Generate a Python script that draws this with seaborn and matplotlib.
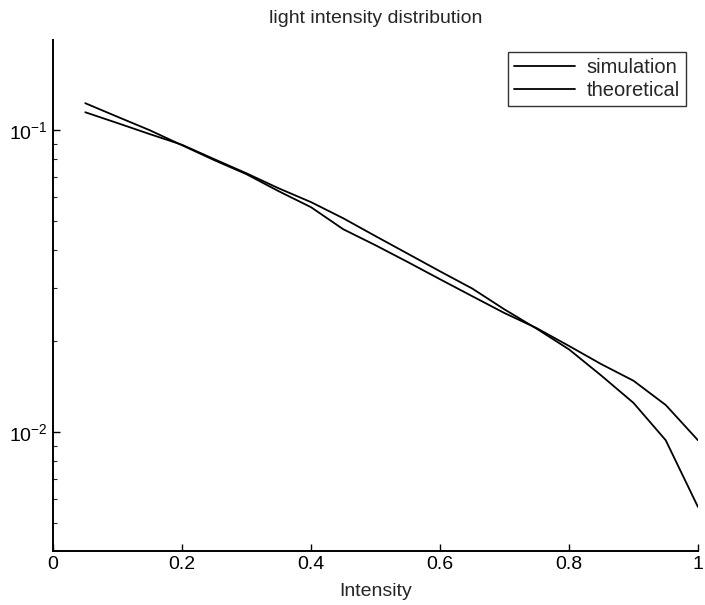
import numpy as np
import pandas as pd
import matplotlib
matplotlib.use("Agg")
import matplotlib.pyplot as plt
import seaborn as sns
from matplotlib.ticker import LogLocator, FixedLocator

intensity = [0.05, 0.10, 0.15, 0.20, 0.25, 0.30, 0.35, 0.40, 0.45, 0.50,
             0.55, 0.60, 0.65, 0.70, 0.75, 0.80, 0.85, 0.90, 0.95, 1.00]
simulation = [0.1229, 0.1108, 0.1000, 0.0892, 0.0796, 0.0715, 0.0628, 0.0556, 0.0470, 0.0416,
              0.0366, 0.0321, 0.0282, 0.0248, 0.0221, 0.0193, 0.0168, 0.0148, 0.0123, 0.0094]
theoretical = [0.1147, 0.1056, 0.0971, 0.0895, 0.0802, 0.0720, 0.0642, 0.0578, 0.0511, 0.0446,
               0.0390, 0.0341, 0.0299, 0.0255, 0.0220, 0.0188, 0.0154, 0.0125, 0.0094, 0.00565]
x_ticks = [0, 0.2, 0.4, 0.6, 0.8, 1]
x_tick_labels = ["0", "0.2", "0.4", "0.6", "0.8", "1"]

sns.set_style("ticks")
plt.rcParams['font.family'] = ['Liberation Sans', 'DejaVu Sans']
plt.rcParams['xtick.direction'] = 'in'
plt.rcParams['ytick.direction'] = 'in'

df = pd.DataFrame({
    "Intensity": intensity * 2,
    "value": simulation + theoretical,
    "series": ["simulation"] * len(intensity) + ["theoretical"] * len(intensity),
})

fig = plt.figure(figsize=(7.05, 6.05), dpi=100)
ax = fig.add_axes([53 / 705, 54 / 605, 645 / 705, 511 / 605])

sns.lineplot(data=df, x="Intensity", y="value", hue="series",
             palette=["black", "black"], linewidth=1.3, ax=ax, legend=True)

ax.set_yscale("log")
ax.set_xlim(0, 1)
ax.set_ylim(0.00404, 0.199)
ax.xaxis.set_major_locator(FixedLocator(x_ticks))
ax.set_xticklabels(x_tick_labels)
ax.yaxis.set_major_locator(LogLocator(base=10, numticks=10))
ax.yaxis.set_minor_locator(LogLocator(base=10, subs=np.arange(2, 10), numticks=20))
ax.tick_params(axis='both', which='major', labelsize=14, length=5, width=1, colors='black')
ax.tick_params(axis='y', which='minor', length=3, width=0.8)
ax.set_xlabel("Intensity", fontsize=14, labelpad=7)
ax.set_ylabel("")
ax.set_title("light intensity distribution", fontsize=14, pad=12)

for s in ["left", "bottom"]:
    ax.spines[s].set_color("black")
    ax.spines[s].set_linewidth(1.4)
sns.despine(ax=ax)

leg = ax.legend(loc="upper right", fontsize=14.5, frameon=True, fancybox=False,
                edgecolor="black", handlelength=3.0, borderaxespad=0.6,
                labelspacing=0.2, borderpad=0.3, handletextpad=0.6)
leg.get_frame().set_linewidth(1.0)

fig.savefig("out.png", dpi=100)
